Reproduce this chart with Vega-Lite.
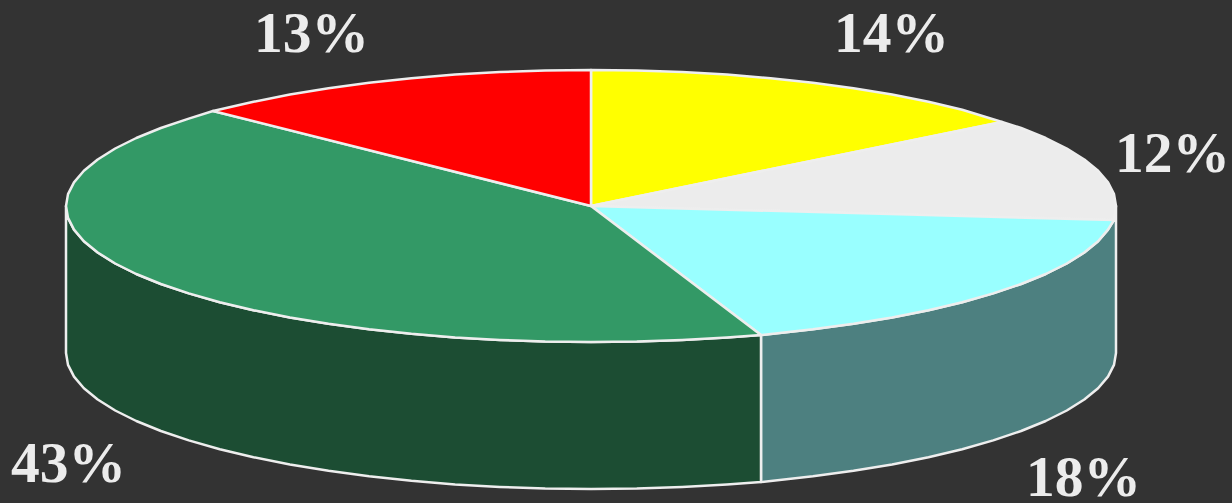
{"$schema":"https://vega.github.io/schema/vega-lite/v6.json","width":1232,"height":503,"autosize":{"type":"none"},"padding":0,"background":"#333333","view":{"stroke":null},
"datasets":{"sides":[
{"part":"s18","i":1,"x":1116,"y":206},{"part":"s18","i":2,"x":1114,"y":217.9},{"part":"s18","i":3,"x":1114,"y":220},{"part":"s18","i":4,"x":1108,"y":229.6},{"part":"s18","i":5,"x":1098.1,"y":241.2},{"part":"s18","i":6,"x":1084.3,"y":252.5},{"part":"s18","i":7,"x":1066.8,"y":263.5},{"part":"s18","i":8,"x":1045.7,"y":274},{"part":"s18","i":9,"x":1021.1,"y":284},{"part":"s18","i":10,"x":993.2,"y":293.4},{"part":"s18","i":11,"x":962.2,"y":302.2},{"part":"s18","i":12,"x":928.5,"y":310.2},{"part":"s18","i":13,"x":892.1,"y":317.4},{"part":"s18","i":14,"x":853.5,"y":323.8},{"part":"s18","i":15,"x":812.9,"y":329.3},{"part":"s18","i":16,"x":761,"y":335},{"part":"s18","i":17,"x":761,"y":482},{"part":"s18","i":18,"x":812.9,"y":476.3},{"part":"s18","i":19,"x":853.5,"y":470.8},{"part":"s18","i":20,"x":892.1,"y":464.4},{"part":"s18","i":21,"x":928.5,"y":457.2},{"part":"s18","i":22,"x":962.2,"y":449.2},{"part":"s18","i":23,"x":993.2,"y":440.4},{"part":"s18","i":24,"x":1021.1,"y":431},{"part":"s18","i":25,"x":1045.7,"y":421},{"part":"s18","i":26,"x":1066.8,"y":410.5},{"part":"s18","i":27,"x":1084.3,"y":399.5},{"part":"s18","i":28,"x":1098.1,"y":388.2},{"part":"s18","i":29,"x":1108,"y":376.6},{"part":"s18","i":30,"x":1114,"y":364.9},{"part":"s18","i":31,"x":1116,"y":353},
{"part":"s43","i":1,"x":761,"y":335},{"part":"s43","i":2,"x":726.9,"y":337.4},{"part":"s43","i":3,"x":682.2,"y":339.9},{"part":"s43","i":4,"x":636.8,"y":341.5},{"part":"s43","i":5,"x":591,"y":342},{"part":"s43","i":6,"x":545.2,"y":341.5},{"part":"s43","i":7,"x":499.8,"y":339.9},{"part":"s43","i":8,"x":455.1,"y":337.4},{"part":"s43","i":9,"x":411.4,"y":333.8},{"part":"s43","i":10,"x":369.1,"y":329.3},{"part":"s43","i":11,"x":328.5,"y":323.8},{"part":"s43","i":12,"x":289.9,"y":317.4},{"part":"s43","i":13,"x":253.5,"y":310.2},{"part":"s43","i":14,"x":219.8,"y":302.2},{"part":"s43","i":15,"x":188.8,"y":293.4},{"part":"s43","i":16,"x":160.9,"y":284},{"part":"s43","i":17,"x":136.3,"y":274},{"part":"s43","i":18,"x":115.2,"y":263.5},{"part":"s43","i":19,"x":97.7,"y":252.5},{"part":"s43","i":20,"x":83.9,"y":241.2},{"part":"s43","i":21,"x":74,"y":229.6},{"part":"s43","i":22,"x":68,"y":217.9},{"part":"s43","i":23,"x":66,"y":206},{"part":"s43","i":24,"x":66,"y":353},{"part":"s43","i":25,"x":68,"y":364.9},{"part":"s43","i":26,"x":74,"y":376.6},{"part":"s43","i":27,"x":83.9,"y":388.2},{"part":"s43","i":28,"x":97.7,"y":399.5},{"part":"s43","i":29,"x":115.2,"y":410.5},{"part":"s43","i":30,"x":136.3,"y":421},{"part":"s43","i":31,"x":160.9,"y":431},{"part":"s43","i":32,"x":188.8,"y":440.4},{"part":"s43","i":33,"x":219.8,"y":449.2},{"part":"s43","i":34,"x":253.5,"y":457.2},{"part":"s43","i":35,"x":289.9,"y":464.4},{"part":"s43","i":36,"x":328.5,"y":470.8},{"part":"s43","i":37,"x":369.1,"y":476.3},{"part":"s43","i":38,"x":411.4,"y":480.8},{"part":"s43","i":39,"x":455.1,"y":484.4},{"part":"s43","i":40,"x":499.8,"y":486.9},{"part":"s43","i":41,"x":545.2,"y":488.5},{"part":"s43","i":42,"x":591,"y":489},{"part":"s43","i":43,"x":636.8,"y":488.5},{"part":"s43","i":44,"x":682.2,"y":486.9},{"part":"s43","i":45,"x":726.9,"y":484.4},{"part":"s43","i":46,"x":761,"y":482}
],
"tops":[
{"part":"t14","i":0,"x":591,"y":206},{"part":"t14","i":1,"x":591,"y":70},{"part":"t14","i":2,"x":636.8,"y":70.5},{"part":"t14","i":3,"x":682.2,"y":72.1},{"part":"t14","i":4,"x":726.9,"y":74.6},{"part":"t14","i":5,"x":770.6,"y":78.2},{"part":"t14","i":6,"x":812.9,"y":82.7},{"part":"t14","i":7,"x":853.5,"y":88.2},{"part":"t14","i":8,"x":892.1,"y":94.6},{"part":"t14","i":9,"x":928.5,"y":101.8},{"part":"t14","i":10,"x":962.2,"y":109.8},{"part":"t14","i":11,"x":1002,"y":122},
{"part":"t12","i":0,"x":591,"y":206},{"part":"t12","i":1,"x":1002,"y":122},{"part":"t12","i":2,"x":1021.1,"y":128},{"part":"t12","i":3,"x":1045.7,"y":138},{"part":"t12","i":4,"x":1066.8,"y":148.5},{"part":"t12","i":5,"x":1084.3,"y":159.5},{"part":"t12","i":6,"x":1098.1,"y":170.8},{"part":"t12","i":7,"x":1108,"y":182.4},{"part":"t12","i":8,"x":1114,"y":194.1},{"part":"t12","i":9,"x":1116,"y":206},{"part":"t12","i":10,"x":1114,"y":220},
{"part":"t18","i":0,"x":591,"y":206},{"part":"t18","i":1,"x":1114,"y":220},{"part":"t18","i":2,"x":1108,"y":229.6},{"part":"t18","i":3,"x":1098.1,"y":241.2},{"part":"t18","i":4,"x":1084.3,"y":252.5},{"part":"t18","i":5,"x":1066.8,"y":263.5},{"part":"t18","i":6,"x":1045.7,"y":274},{"part":"t18","i":7,"x":1021.1,"y":284},{"part":"t18","i":8,"x":993.2,"y":293.4},{"part":"t18","i":9,"x":962.2,"y":302.2},{"part":"t18","i":10,"x":928.5,"y":310.2},{"part":"t18","i":11,"x":892.1,"y":317.4},{"part":"t18","i":12,"x":853.5,"y":323.8},{"part":"t18","i":13,"x":812.9,"y":329.3},{"part":"t18","i":14,"x":761,"y":335},
{"part":"t43","i":0,"x":591,"y":206},{"part":"t43","i":1,"x":761,"y":335},{"part":"t43","i":2,"x":726.9,"y":337.4},{"part":"t43","i":3,"x":682.2,"y":339.9},{"part":"t43","i":4,"x":636.8,"y":341.5},{"part":"t43","i":5,"x":591,"y":342},{"part":"t43","i":6,"x":545.2,"y":341.5},{"part":"t43","i":7,"x":499.8,"y":339.9},{"part":"t43","i":8,"x":455.1,"y":337.4},{"part":"t43","i":9,"x":411.4,"y":333.8},{"part":"t43","i":10,"x":369.1,"y":329.3},{"part":"t43","i":11,"x":328.5,"y":323.8},{"part":"t43","i":12,"x":289.9,"y":317.4},{"part":"t43","i":13,"x":253.5,"y":310.2},{"part":"t43","i":14,"x":219.8,"y":302.2},{"part":"t43","i":15,"x":188.8,"y":293.4},{"part":"t43","i":16,"x":160.9,"y":284},{"part":"t43","i":17,"x":136.3,"y":274},{"part":"t43","i":18,"x":115.2,"y":263.5},{"part":"t43","i":19,"x":97.7,"y":252.5},{"part":"t43","i":20,"x":83.9,"y":241.2},{"part":"t43","i":21,"x":74,"y":229.6},{"part":"t43","i":22,"x":68,"y":217.9},{"part":"t43","i":23,"x":66,"y":206},{"part":"t43","i":24,"x":68,"y":194.1},{"part":"t43","i":25,"x":74,"y":182.4},{"part":"t43","i":26,"x":83.9,"y":170.8},{"part":"t43","i":27,"x":97.7,"y":159.5},{"part":"t43","i":28,"x":115.2,"y":148.5},{"part":"t43","i":29,"x":136.3,"y":138},{"part":"t43","i":30,"x":160.9,"y":128},{"part":"t43","i":31,"x":188.8,"y":118.6},{"part":"t43","i":32,"x":213,"y":111},
{"part":"t13","i":0,"x":591,"y":206},{"part":"t13","i":1,"x":213,"y":111},{"part":"t13","i":2,"x":253.5,"y":101.8},{"part":"t13","i":3,"x":289.9,"y":94.6},{"part":"t13","i":4,"x":328.5,"y":88.2},{"part":"t13","i":5,"x":369.1,"y":82.7},{"part":"t13","i":6,"x":411.4,"y":78.2},{"part":"t13","i":7,"x":455.1,"y":74.6},{"part":"t13","i":8,"x":499.8,"y":72.1},{"part":"t13","i":9,"x":545.2,"y":70.5},{"part":"t13","i":10,"x":591,"y":70}
],
"labels":[{"label":"13%","x":311.5,"y":52},{"label":"14%","x":891.5,"y":52},{"label":"12%","x":1172.5,"y":172},{"label":"43%","x":68.5,"y":482},{"label":"18%","x":1083.5,"y":496}]},
"layer":[
{"data":{"name":"sides"},"mark":{"type":"line","interpolate":"linear-closed","stroke":"#eeeeee","strokeWidth":2.5,"strokeJoin":"round","fillOpacity":1},
"encoding":{"x":{"field":"x","type":"quantitative","scale":{"domain":[0,1232]},"axis":null},"y":{"field":"y","type":"quantitative","scale":{"domain":[503,0]},"axis":null},"order":{"field":"i","type":"quantitative"},"detail":{"field":"part"},"fill":{"field":"part","type":"nominal","legend":null,"scale":{"domain":["s18","s43","t14","t12","t18","t43","t13"],"range":["#4d8080","#1c4d33","#ffff00","#ececec","#99ffff","#339966","#ff0000"]}}}},
{"data":{"name":"tops"},"mark":{"type":"line","interpolate":"linear-closed","stroke":"#eeeeee","strokeWidth":2.5,"strokeJoin":"round","fillOpacity":1},
"encoding":{"x":{"field":"x","type":"quantitative","scale":{"domain":[0,1232]},"axis":null},"y":{"field":"y","type":"quantitative","scale":{"domain":[503,0]},"axis":null},"order":{"field":"i","type":"quantitative"},"detail":{"field":"part"},"fill":{"field":"part","type":"nominal","legend":null,"scale":{"domain":["s18","s43","t14","t12","t18","t43","t13"],"range":["#4d8080","#1c4d33","#ffff00","#ececec","#99ffff","#339966","#ff0000"]}}}},
{"data":{"name":"labels"},"mark":{"type":"text","font":"Liberation Serif","fontWeight":"bold","fontSize":57.5,"color":"#ececec","align":"center","baseline":"alphabetic"},
"encoding":{"x":{"field":"x","type":"quantitative","scale":{"domain":[0,1232]},"axis":null},"y":{"field":"y","type":"quantitative","scale":{"domain":[503,0]},"axis":null},"text":{"field":"label"}}}
]}
